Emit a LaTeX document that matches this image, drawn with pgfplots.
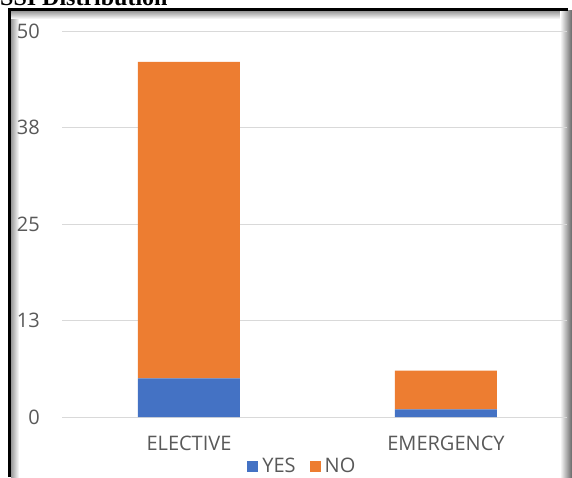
\documentclass[border=0pt]{standalone}
\usepackage{fontspec}
\setmainfont{Open Sans}
\newfontfamily\titlefont{Liberation Serif}
\usepackage{pgfplots}
\pgfplotsset{compat=1.18}
\definecolor{cblue}{HTML}{4472C4}
\definecolor{corange}{HTML}{ED7D31}
\definecolor{tgray}{HTML}{595959}
\definecolor{ggray}{HTML}{D9D9D9}
\begin{document}
\begin{tikzpicture}[x=1pt,y=1pt]
\useasboundingbox (0,0) rectangle (572,477);
\clip (0,0) rectangle (572,477);
\fill[white] (0,0) rectangle (572,477);
\node[anchor=base west, inner sep=0pt, font=\titlefont\bfseries\fontsize{24}{28}\selectfont] at (0,471) {SSI Distribution};
% frame
\shade[left color=gray!80, right color=white] (11,0) rectangle (19,466);
\shade[top color=gray!80, bottom color=white] (11,458) rectangle (565,466);
\shade[left color=white, right color=gray!80!black] (560,0) rectangle (572,466);
\draw[line width=3pt] (9.5,0) -- (9.5,467.5) -- (568,467.5);
\begin{axis}[at={(62pt,60pt)}, anchor=south west, scale only axis,
  width=505pt, height=386pt,
  xmin=-0.494, xmax=1.471, ymin=0, ymax=50,
  ybar stacked, bar width=102pt,
  xtick={0,1}, xticklabels={ELECTIVE,EMERGENCY},
  ytick={0,12.5,25,37.5,50}, yticklabels={0,13,25,38,50},
  ymajorgrids, grid style={ggray, line width=1pt},
  axis line style={draw=none}, major tick length=0pt,
  /pgf/number format/assume math mode=true,
  tick label style={font=\fontsize{20}{24}\selectfont, text=tgray},
  yticklabel style={anchor=east, inner sep=0pt, xshift=-22pt},
  xticklabel style={anchor=north, inner sep=0pt, yshift=-19pt},
  legend columns=2,
  legend style={at={(0.478,-0.127)}, anchor=center, draw=none, fill=none,
    font=\fontsize{20}{24}\selectfont, text=tgray,
    /tikz/every even column/.append style={column sep=10pt},
    nodes={inner ysep=1pt, inner xsep=4pt}},
  clip=false,
]
\addplot[fill=cblue, draw=none, legend image code/.code={\fill[cblue] (0pt,-5.5pt) rectangle (11pt,5.5pt);}] coordinates {(0,5) (1,1)};
\addplot[fill=corange, draw=none, legend image code/.code={\fill[corange] (0pt,-5.5pt) rectangle (11pt,5.5pt);}] coordinates {(0,41) (1,5)};
\legend{YES,NO}
\end{axis}
\end{tikzpicture}
\end{document}
